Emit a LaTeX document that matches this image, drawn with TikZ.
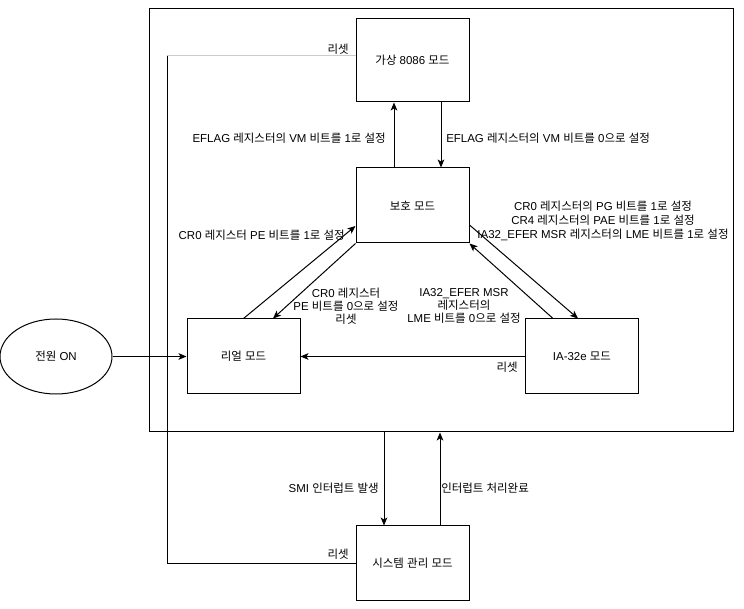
\documentclass[tikz,border=0pt]{standalone}
\usepackage{fontspec}
\setmainfont{Liberation Sans}
\newfontfamily\krfont{Noto Sans CJK KR}
% hangul syllables switch to the korean face
\XeTeXinterchartokenstate=1
\newXeTeXintercharclass\krclass
\count255="AC00
\loop \XeTeXcharclass\count255=\krclass \ifnum\count255<"D7A3 \advance\count255 by 1 \repeat
\XeTeXinterchartoks 0 \krclass = {\begingroup\krfont}
\XeTeXinterchartoks 4095 \krclass = {\begingroup\krfont}
\XeTeXinterchartoks \krclass 0 = {\endgroup}
\XeTeXinterchartoks \krclass 4095 = {\endgroup}
\usetikzlibrary{arrows.meta,positioning,shapes.geometric,calc}

\begin{document}
\begin{tikzpicture}[
  x=0.75pt, y=-0.75pt,
  every node/.style={font=\fontsize{8.6}{9.6}\selectfont},
  modebox/.style={draw,line width=0.75pt,minimum width=84.75pt,minimum height=56.25pt,inner sep=0pt},
  trans/.style={draw,line width=0.75pt,-{Stealth[length=6pt,width=5pt,inset=1.5pt]}},
  rstline/.style={draw,line width=0.75pt},
  lbl/.style={align=center,inner sep=0pt},
]
  \useasboundingbox (0,0) rectangle (744,609);
  % processor frame
  \node[draw,line width=0.75pt,minimum width=438pt,minimum height=317.25pt,inner sep=0pt] (sys) at (441,220.5) {};
  % modes
  \node[modebox,minimum height=62.25pt] (v86) at (412.5,60.5) {가상 8086 모드};
  \node[modebox] (prot) at (412.5,205.5) {보호 모드};
  \node[modebox] (real) at (243.5,356.5) {리얼 모드};
  \node[modebox] (ia32e) at (582,356.5) {IA-32e 모드};
  \node[modebox] (smm) at (412.5,563.5) {시스템 관리 모드};
  \node[draw,ellipse,line width=0.75pt,minimum width=84pt,minimum height=56.25pt,inner sep=0pt] (power) at (56,356.5) {전원 ON};

  % protected <-> virtual 8086
  \draw[trans] ($(prot.north)+(-18.5,0)$) -- ($(v86.south)+(-18.5,0)$);
  \draw[trans] ($(v86.south)+(28.5,0)$) -- ($(prot.north)+(28.5,0)$);
  % real <-> protected
  \draw[trans] (real.north) -- ($(prot.west)+(0,20.5)$);
  \draw[trans] (prot.south west) -- ($(real.north)+(29.5,0)$);
  % protected <-> IA-32e
  \draw[trans] ($(prot.east)+(0,19.5)$) -- ($(ia32e.north)+(-4,0)$);
  \draw[trans] ($(ia32e.north)+(-29,0)$) -- (prot.south east);
  \draw[trans] (ia32e.west) -- (real.east);
  \draw[trans] (power.east) -- (real.west);
  % system management
  \coordinate (smiin) at ($(smm.north)+(-28.5,0)$);
  \coordinate (smiout) at ($(smm.north)+(27.5,0)$);
  \draw[trans] (sys.south -| smiin) -- (smiin);
  \draw[trans] (smiout) -- (sys.south -| smiout);
  % reset lines
  \coordinate (rstbend) at (167,56);
  \draw[rstline,black!20] (v86.west |- rstbend) -- (rstbend);
  \draw[rstline] (rstbend) |- (smm.west);

  % labels
  \node[lbl,anchor=east] (rsttop) at (349,49) {리셋};
  \node[lbl,anchor=east] (vmset) at (386,138) {EFLAG 레지스터의 VM 비트를 1로 설정};
  \node[lbl,anchor=west] (vmclr) at (446,138) {EFLAG 레지스터의 VM 비트를 0으로 설정};
  \node[lbl,anchor=east] (peset) at (345,235) {CR0 레지스터 PE 비트를 1로 설정};
  \node[lbl] (peclr) at (346,306) {CR0 레지스터\\PE 비트를 0으로 설정\\리셋};
  \node[lbl,font=\fontsize{8.6}{10.6}\selectfont] (lmeset) at (603,221) {CR0 레지스터의 PG 비트를 1로 설정\\CR4 레지스터의 PAE 비트를 1로 설정\\IA32\_EFER MSR 레지스터의 LME 비트를 1로 설정};
  \node[lbl] (lmeclr) at (464,306) {IA32\_EFER MSR\\레지스터의\\LME 비트를 0으로 설정};
  \node[lbl,anchor=east] (rstia) at (518,367) {리셋};
  \node[lbl,anchor=east] (smi) at (379,488) {SMI 인터럽트 발생};
  \node[lbl,anchor=west] (rsm) at (441,488) {인터럽트 처리완료};
  \node[lbl,anchor=east] (rstsmm) at (349,554) {리셋};
\end{tikzpicture}
\end{document}
